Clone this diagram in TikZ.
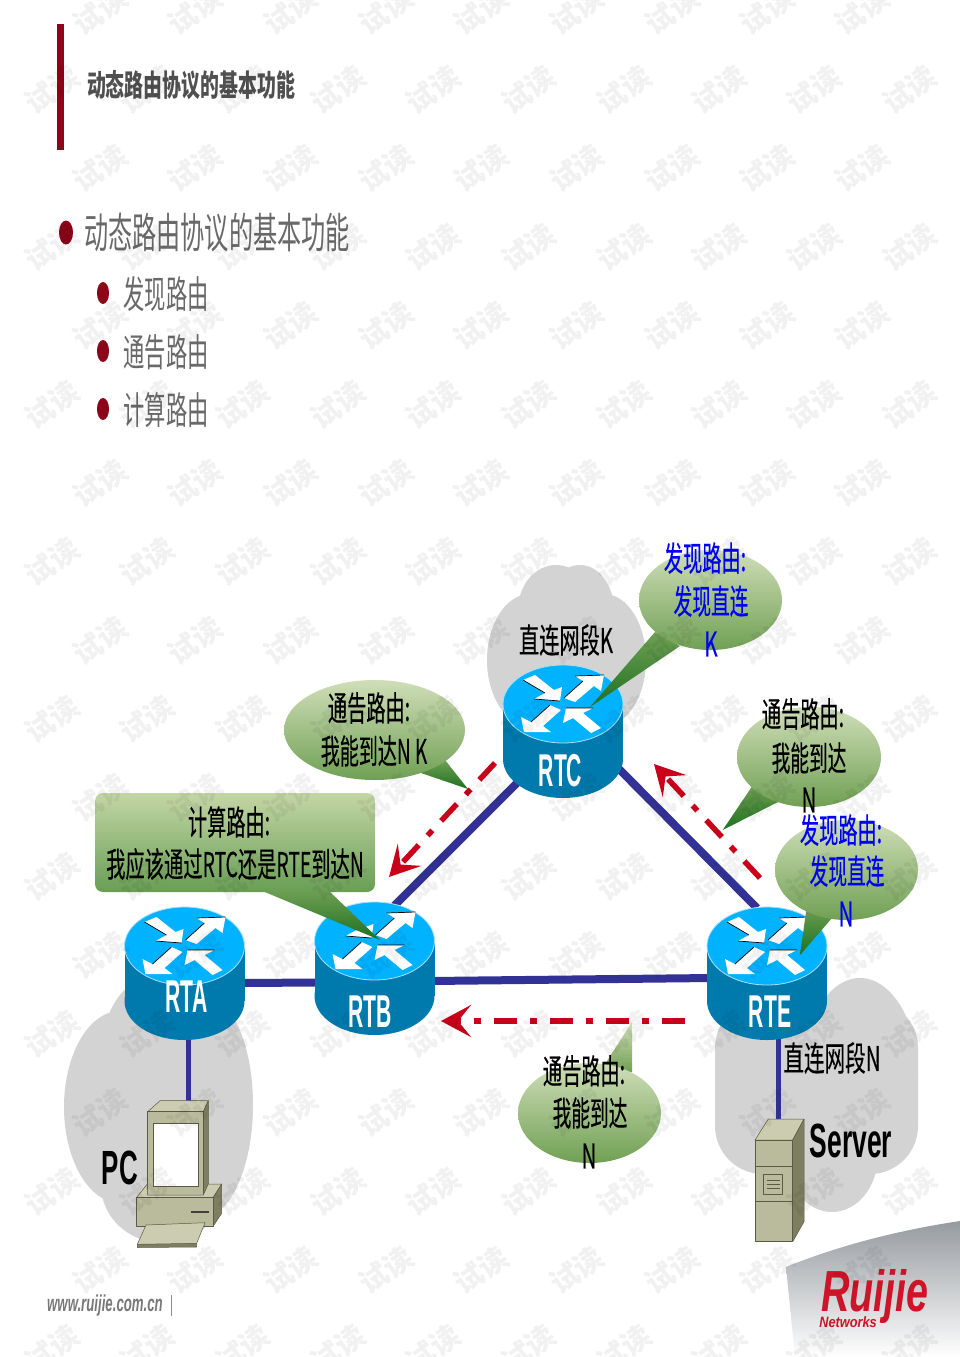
\documentclass[tikz,border=0pt]{standalone}
\usepackage{fontspec}
\usepackage{graphicx}
\usetikzlibrary{arrows.meta}
\newfontfamily\cjk{Noto Sans CJK SC}
\newfontfamily\cjkm[FakeBold=0.35]{Noto Sans CJK SC}
\newfontfamily\lat{Liberation Sans}
\newcommand\sq[2]{\scalebox{#1}[1]{#2}}
\definecolor{cloudgray}{RGB}{211,211,212}
\definecolor{linkblue}{RGB}{50,50,150}
\definecolor{arrowred}{RGB}{200,0,25}
\definecolor{barred}{RGB}{140,5,25}
\definecolor{greentop}{RGB}{208,222,184}
\definecolor{greenbot}{RGB}{112,160,84}
\definecolor{greentip}{RGB}{30,112,32}
\definecolor{rtop}{RGB}{0,178,255}
\definecolor{rbody}{RGB}{0,122,172}
\definecolor{rrim}{RGB}{170,225,250}
\definecolor{putty}{RGB}{186,186,156}
\definecolor{puttyl}{RGB}{204,204,176}
\definecolor{puttyd}{RGB}{126,126,96}
\definecolor{puttyedge}{RGB}{90,90,70}
\tikzset{
  every node/.style={inner sep=0pt,outer sep=0pt},
  cloudshape/.style={fill=cloudgray,draw=none},
  link/.style={draw=linkblue,line width=8pt},
  thinlink/.style={draw=linkblue,line width=5pt},
  redarrow/.style={draw=arrowred,line width=5.5pt,dash pattern=on 23pt off 13pt on 7pt off 13pt,-{Stealth[length=30pt,width=32pt,inset=13pt]}},
  bubble/.style={top color=greentop,bottom color=greenbot,draw=none},
  tailpart/.style={top color=greenbot,bottom color=greentip,draw=none},
  labk/.style={font=\cjkm\fontsize{34}{34}\selectfont,text=black},
  labb/.style={font=\cjkm\fontsize{34}{34}\selectfont,text={rgb,255:red,0;green,0;blue,245}},
  rlabel/.style={font=\lat\bfseries\fontsize{46}{46}\selectfont,text=white},
  bigb/.style={font=\lat\bfseries\fontsize{48}{48}\selectfont,text=black},
  heading/.style={font=\cjk\fontsize{42}{42}\selectfont,text={rgb,255:red,105;green,105;blue,105}},
  subheading/.style={font=\cjk\fontsize{38}{38}\selectfont,text={rgb,255:red,105;green,105;blue,105}},
  wmark/.style={font=\cjk\bfseries\fontsize{29}{29}\selectfont,text=black,text opacity=0.055,rotate=35},
  bulletdot/.style={fill=barred,draw=none},
  unit/.style={fill=putty,draw=puttyedge,line width=.5pt,line join=round},
  unitl/.style={fill=puttyl,draw=puttyedge,line width=.5pt,line join=round},
  unitd/.style={fill=puttyd,draw=puttyedge,line width=.5pt,line join=round},
  rarrow/.style={fill=white,draw=none},
  redge/.style={draw=black,line width=.7pt}
}
% router: centre of top face at #1
\newcommand\router[1]{%
\begin{scope}[shift={(#1)}]
  \fill[rbody] (-60,0) rectangle (60,55);
  \fill[rbody] (0,55) ellipse [x radius=60,y radius=39];
  \filldraw[fill=rtop,draw=rrim,line width=.8pt] (0,0) ellipse [x radius=60,y radius=39];
  \fill[rarrow] (-40,-24)--(-28,-29)--(-9,-14)--(-1,-17)--(-3,-3)--(-29,-5)--(-18,-11)--cycle;
  \fill[rarrow] (1,-6)--(12,-2)--(31,-18)--(38,-13)--(41,-29)--(12,-28)--(20,-23)--cycle;
  \fill[rarrow] (-2,6)--(-13,1)--(-32,18)--(-42,13)--(-39,28)--(-12,28)--(-20,22)--cycle;
  \fill[rarrow] (38,24)--(28,29)--(10,14)--(0,19)--(3,4)--(30,4)--(20,9)--cycle;
  \draw[redge] (12,-28)--(41,-29) (1,-6)--(20,-23) (3,4)--(30,4) (-13,1)--(-32,18) (-40,-24)--(-18,-11) (-29,-5)--(-3,-3);
\end{scope}}
\begin{document}
\begin{tikzpicture}[x=1pt,y=-1pt]
\useasboundingbox (0,0) rectangle (960,1357);
% logo panel
\shade[top color={rgb,255:red,150;green,155;blue,160},bottom color=white,draw=none]
  (786,1267) .. controls (840,1245) and (900,1230) .. (960,1221) -- (960,1357) -- (795,1357) -- cycle;
% heading
\fill[barred] (57,24) rectangle (63.5,150);
\node[font=\cjk\bfseries\fontsize{30}{30}\selectfont,text={rgb,255:red,80;green,80;blue,80}] (title) at (191,85) {\sq{.63}{动态路由协议的基本功能}};
\fill[bulletdot] (66,232.5) ellipse [x radius=7,y radius=12];
\node[heading] (h0) at (217,233) {\sq{.575}{动态路由协议的基本功能}};
\fill[bulletdot] (103,293) ellipse [x radius=6,y radius=11];
\node[subheading] (h1) at (166,294) {\sq{.56}{发现路由}};
\fill[bulletdot] (103,351) ellipse [x radius=6,y radius=11];
\node[subheading] (h2) at (166,352) {\sq{.56}{通告路由}};
\fill[bulletdot] (103,409) ellipse [x radius=6,y radius=11];
\node[subheading] (h3) at (166,410) {\sq{.56}{计算路由}};
% clouds
\fill[cloudshape] (556,610) ellipse [x radius=38,y radius=45];
\fill[cloudshape] (580,610) ellipse [x radius=34,y radius=45];
\fill[cloudshape] (530,660) ellipse [x radius=43,y radius=66];
\fill[cloudshape] (604,660) ellipse [x radius=42,y radius=66];
\fill[cloudshape] (120,1107) ellipse [x radius=56,y radius=96];
\fill[cloudshape] (200,1105) ellipse [x radius=53,y radius=114];
\fill[cloudshape] (160,1050) ellipse [x radius=58,y radius=76];
\fill[cloudshape] (163,1185) ellipse [x radius=62,y radius=58];
\fill[cloudshape,rounded corners=48pt] (715,1000) rectangle (918,1174);
\fill[cloudshape] (860,1076) ellipse [x radius=58,y radius=98];
\fill[cloudshape] (832,1155) ellipse [x radius=46,y radius=57];
% router ports
\coordinate (ra) at (184.5,946);
\coordinate (rb) at (374.5,941);
\coordinate (rc) at (563,704);
\coordinate (re) at (767,946);
\coordinate (raE) at (240,983);  \coordinate (rbW) at (320,982.5);
\coordinate (rbE) at (430,981);  \coordinate (reW) at (712,978);
\coordinate (rbN) at (392,908);  \coordinate (rcSW) at (518,782);
\coordinate (rcSE) at (618,768); \coordinate (reNW) at (757,908);
\coordinate (raS) at (188,1035); \coordinate (pcT) at (188,1105);
\coordinate (reS) at (778,1035); \coordinate (srvT) at (778,1122);
% links
\draw[link] (raE) -- (rbW);
\draw[link] (rbE) -- (reW);
\draw[link] (rbN) -- (rcSW);
\draw[link] (rcSE) -- (reNW);
\draw[thinlink] (raS) -- (pcT);
\draw[thinlink] (reS) -- (srvT);
% routers
\router{ra}\router{rb}\router{rc}\router{re}
\node[rlabel] (lra) at (186.5,997) {\sq{.46}{RTA}};
\node[rlabel] (lrb) at (370,1012) {\sq{.46}{RTB}};
\node[rlabel] (lrc) at (560.5,771) {\sq{.46}{RTC}};
\node[rlabel] (lre) at (770,1012) {\sq{.46}{RTE}};
% PC
\path[unitl] (147.7,1111.7)--(160,1100.7)--(208.3,1100.7)--(203.3,1111.7)--cycle;
\path[unitd] (203.3,1111.7)--(208.3,1100.7)--(208.3,1188)--(203.3,1195)--cycle;
\path[unit] (147.7,1111.7) rectangle (203.3,1195);
\path[fill=white,draw=puttyedge,line width=.4pt] (152.7,1122.7) rectangle (198.3,1185.7);
\path[unitl] (136.7,1197.3)--(147.3,1184)--(147.7,1195)--(203.3,1195)--(208.3,1184)--(221.7,1184)--(213.3,1197.3)--cycle;
\path[unitd] (213.3,1197.3)--(221.7,1184)--(221.7,1213.3)--(213.3,1226)--cycle;
\path[unit] (136.7,1197.3) rectangle (213.3,1226);
\fill[black!75] (191,1210.5) rectangle (209,1212.5);
\path[unitd] (137.3,1244.3)--(196.7,1243.3)--(196.7,1247)--(137.3,1247.5)--cycle;
\path[unitl] (146,1225)--(205,1222.7)--(196.7,1243.3)--(137.3,1244.3)--cycle;
% Server
\path[unitl] (755,1140)--(768.3,1119)--(804,1119)--(792.7,1140)--cycle;
\path[unitd] (792.7,1140)--(804,1119)--(804,1221.7)--(792.7,1241.7)--cycle;
\path[unit] (755,1140) rectangle (792.7,1241.7);
\draw[puttyedge,line width=.8pt] (755,1166.7)--(792.7,1166.7) (755,1201.7)--(792.7,1201.7);
\path[unit] (763.3,1174) rectangle (782.7,1194);
\draw[puttyedge,line width=.7pt] (766.5,1180)--(779.5,1180) (766.5,1184)--(779.5,1184) (766.5,1188)--(779.5,1188);
% diagram labels
\node[labk] (dk) at (566,640) {\sq{.595}{直连网段K}};
\node[labk] (dn) at (832,1058) {\sq{.605}{直连网段N}};
\node[bigb] (srv) at (851,1141) {\sq{.55}{Server}};
\node[bigb] (pc) at (120,1168) {\sq{.54}{PC}};
% red arrows
\coordinate (a1s) at (495,763); \coordinate (a1e) at (389,877);
\coordinate (a2s) at (760,878); \coordinate (a2e) at (654,764);
\coordinate (a3s) at (685,1021); \coordinate (a3e) at (441,1021);
\draw[redarrow] (a1s) -- (a1e);
\draw[redarrow] (a2s) -- (a2e);
\draw[redarrow] (a3s) -- (a3e);
% callouts
\shade[tailpart] (655,632)--(680,646)--(590,707)--cycle;
\shade[bubble] (710.5,600) ellipse [x radius=71.5,y radius=50];
\shade[tailpart] (753,785)--(778,802)--(722.7,830)--cycle;
\shade[bubble] (809,757) ellipse [x radius=72,y radius=50];
\shade[tailpart] (807,905)--(832,918)--(800,955)--cycle;
\shade[bubble] (846.5,870) ellipse [x radius=71.5,y radius=50];
\shade[tailpart] (418,772)--(445,760)--(468,789)--cycle;
\shade[bubble] (374.5,730) ellipse [x radius=90.5,y radius=50];
\shade[top color=greentop,bottom color=greenbot,draw=none] (600,1072)--(632,1072)--(632,1022)--cycle;
\shade[bubble] (589.5,1113) ellipse [x radius=71.5,y radius=50];
\shade[tailpart] (260,890)--(328,890)--(380,940)--cycle;
\shade[top color={rgb,255:red,196;green,214;blue,166},bottom color={rgb,255:red,104;green,158;blue,84},draw=none,rounded corners=8pt] (95,793) rectangle (375,892);
% callout texts
\node[labb] (t1a) at (705,558) {\sq{.565}{发现路由:}};
\node[labb] (t1b) at (711,601) {\sq{.55}{发现直连}};
\node[labb] (t1c) at (711,644) {\sq{.6}{K}};
\node[labk] (t2a) at (803,714) {\sq{.565}{通告路由:}};
\node[labk] (t2b) at (809,758) {\sq{.55}{我能到达}};
\node[labk] (t2c) at (809,800) {\sq{.6}{N}};
\node[labb] (t3a) at (841,830) {\sq{.565}{发现路由:}};
\node[labb] (t3b) at (847,871) {\sq{.55}{发现直连}};
\node[labb] (t3c) at (846,914) {\sq{.6}{N}};
\node[labk] (t4a) at (369,708) {\sq{.565}{通告路由:}};
\node[labk] (t4b) at (374,751) {\sq{.56}{我能到达N K}};
\node[labk] (t5a) at (584,1071) {\sq{.565}{通告路由:}};
\node[labk] (t5b) at (590,1113) {\sq{.55}{我能到达}};
\node[labk] (t5c) at (589,1156) {\sq{.6}{N}};
\node[labk] (t6a) at (229,822) {\sq{.565}{计算路由:}};
\node[labk] (t6b) at (235,864) {\sq{.567}{我应该通过RTC还是RTE到达N}};
% footer + logo
\node[font=\lat\bfseries\itshape\fontsize{23}{23}\selectfont,text={rgb,255:red,120;green,120;blue,120}] (www) at (105,1306) {\sq{.575}{www.ruijie.com.cn}};
\coordinate (fbt) at (171.5,1295); \coordinate (fbb) at (171.5,1316);
\draw[black!45,line width=.8pt] (fbt) -- (fbb);
\node[font=\lat\bfseries\itshape\fontsize{58}{58}\selectfont,text={rgb,255:red,205;green,20;blue,40}] (rj) at (875,1296) {\sq{.68}{Ruijie}};
\node[font=\lat\bfseries\itshape\fontsize{15}{15}\selectfont,text={rgb,255:red,205;green,20;blue,40}] (nw) at (848,1322) {\sq{.85}{Networks}};
% watermark
\foreach \r in {0,...,17} {
  \pgfmathtruncatemacro\odd{mod(\r,2)}
  \pgfmathsetmacro\yy{11+78.7*\r}
  \ifnum\odd=0
    \foreach \k in {0,...,8} {
      \pgfmathsetmacro\xx{100+95.3*\k}
      \node[wmark] (wm\r-\k) at (\xx,\yy) {试读};
    }
  \else
    \foreach \k in {0,...,9} {
      \pgfmathsetmacro\xx{52+95.3*\k}
      \node[wmark] (wm\r-\k) at (\xx,\yy) {试读};
    }
  \fi
}
\end{tikzpicture}
\end{document}
